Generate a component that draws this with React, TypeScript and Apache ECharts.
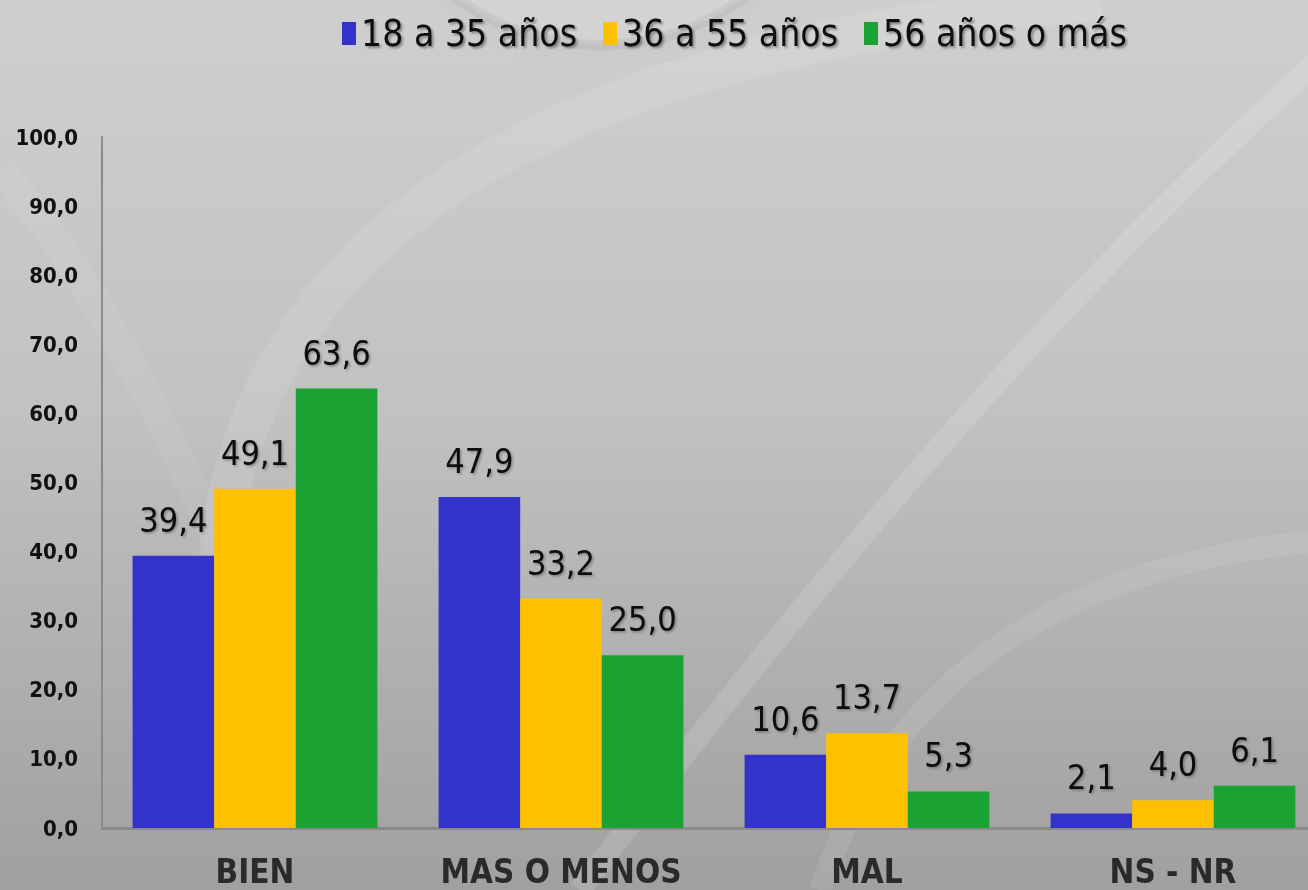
import React, { useEffect, useRef } from "react";
import * as echarts from "echarts";

const categories = ["BIEN", "MAS O MENOS", "MAL", "NS - NR"];
const seriesNames = ["18 a 35 años", "36 a 55 años", "56 años o más"];
const values18a35 = [39.4, 47.9, 10.6, 2.1];
const values36a55 = [49.1, 33.2, 13.7, 4.0];
const values56mas = [63.6, 25.0, 5.3, 6.1];
const seriesColors = ["#3333CC", "#FFC000", "#1AA332"];

const fmt = (v: number) => v.toFixed(1).replace(".", ",");

export default function App() {
  const ref = useRef<HTMLDivElement>(null);
  useEffect(() => {
    if (!ref.current) return;
    const chart = echarts.init(ref.current, undefined, { renderer: "svg" });
    const dataSets = [values18a35, values36a55, values56mas];
    const font = "'DejaVu Sans Condensed', 'DejaVu Sans', sans-serif";
    const soft = (op: number, w: number) => ({
      stroke: `rgba(255,255,255,${op})`,
      lineWidth: w,
      fill: "none",
      shadowBlur: 40,
      shadowColor: `rgba(255,255,255,${op})`,
    });
    chart.setOption({
      animation: false,
      backgroundColor: "transparent",
      graphic: [
        {
          type: "rect",
          z: -10,
          silent: true,
          shape: { x: 0, y: 0, width: 1326, height: 890 },
          style: {
            fill: new echarts.graphic.LinearGradient(0, 0, 0, 1, [
              { offset: 0, color: "#cfcfcf" },
              { offset: 0.45, color: "#c2c2c2" },
              { offset: 1, color: "#a0a0a0" },
            ]),
          },
        },
        {
          type: "circle",
          z: -9,
          silent: true,
          shape: { cx: 600, cy: -200, r: 245 },
          style: { fill: "rgba(255,255,255,0.12)", stroke: "rgba(120,120,120,0.12)", lineWidth: 10, shadowBlur: 25, shadowColor: "rgba(80,80,80,0.25)" },
        },
        {
          type: "bezierCurve",
          z: -9,
          silent: true,
          shape: { x1: 220, y1: 700, x2: 1100, y2: 0, cpx1: 160, cpy1: 160, cpx2: 700, cpy2: 40 },
          style: soft(0.09, 40),
        },
        {
          type: "bezierCurve",
          z: -9,
          silent: true,
          shape: { x1: 580, y1: 890, x2: 1320, y2: 60, cpx1: 800, cpy1: 600, cpx2: 1050, cpy2: 300 },
          style: soft(0.12, 22),
        },
        {
          type: "bezierCurve",
          z: -9,
          silent: true,
          shape: { x1: 820, y1: 890, x2: 1326, y2: 540, cpx1: 900, cpy1: 650, cpx2: 1100, cpy2: 560 },
          style: soft(0.08, 22),
        },
        {
          type: "bezierCurve",
          z: -9,
          silent: true,
          shape: { x1: 0, y1: 170, x2: 330, y2: 820, cpx1: 120, cpy1: 300, cpx2: 250, cpy2: 600 },
          style: soft(0.05, 30),
        },
      ],
      legend: {
        data: seriesNames,
        left: 337,
        top: 10,
        itemWidth: 14,
        itemHeight: 23,
        itemGap: 26,
        icon: "rect",
        textStyle: {
          fontFamily: font,
          fontSize: 37,
          color: "#0a0a0a",
          textShadowColor: "rgba(0,0,0,0.35)",
          textShadowOffsetX: 2,
          textShadowOffsetY: 2,
          textShadowBlur: 2,
        },
      },
      grid: { left: 102, top: 137, bottom: 62, right: 0, containLabel: false },
      xAxis: {
        type: "category",
        data: categories,
        axisLine: { lineStyle: { color: "#8a8a8a", width: 3 } },
        axisTick: { show: false },
        axisLabel: {
          margin: 27,
          fontFamily: font,
          fontWeight: "bold",
          fontSize: 33,
          color: "#2a2a2a",
          interval: 0,
        },
      },
      yAxis: {
        type: "value",
        min: 0,
        max: 100,
        interval: 10,
        splitLine: { show: false },
        axisTick: { show: false },
        axisLine: { show: true, lineStyle: { color: "#8a8a8a", width: 2 } },
        axisLabel: {
          margin: 24,
          formatter: (v: number) => fmt(v),
          fontFamily: font,
          fontWeight: "bold",
          fontSize: 22,
          color: "#111",
        },
      },
      series: dataSets.map((d, i) => ({
        name: seriesNames[i],
        type: "bar",
        data: d,
        barGap: "0%",
        barCategoryGap: "20%",
        itemStyle: { color: seriesColors[i] },
        label: {
          show: true,
          position: "top",
          distance: 19,
          formatter: (p: any) => fmt(p.value),
          fontFamily: font,
          fontSize: 34,
          color: "#0a0a0a",
          textShadowColor: "rgba(0,0,0,0.3)",
          textShadowOffsetX: 1.5,
          textShadowOffsetY: 1.5,
          textShadowBlur: 2,
        },
      })),
    });
    return () => chart.dispose();
  }, []);
  return (
    <div style={{ position: "fixed", left: 0, top: 0, width: 1308, height: 890, overflow: "hidden" }}>
      <div ref={ref} style={{ width: 1326, height: 890 }} />
    </div>
  );
}
